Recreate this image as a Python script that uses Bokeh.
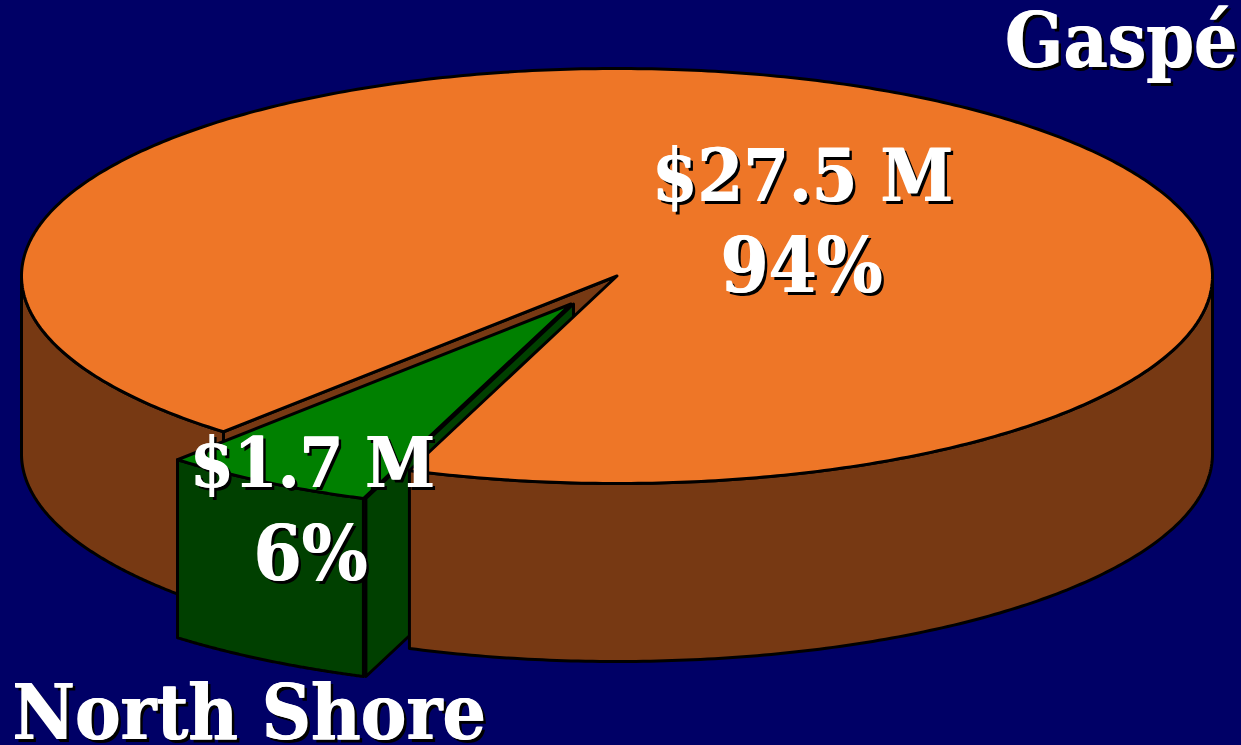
import numpy as np
from bokeh.plotting import figure
from bokeh.models import Range1d
from bokeh.core.properties import value
from bokeh.embed import file_html
from bokeh.resources import INLINE

# data
regions = ["Gaspé", "North Shore"]
amounts = [27.5, 1.7]
amount_labels = ["$27.5 M", "$1.7 M"]
share_labels = ["94%", "6%"]

# colours
BG = "#000066"
ORANGE = "#EE7627"
BROWN = "#773913"
GREEN = "#008000"
DKGREEN = "#004000"

# projected pie geometry (pixels of the page)
W, H = 1241, 745
CX, CY, RX, RY, DEPTH = 616.5, 275.5, 595.5, 207.5, 178
START = 110.4               # degrees, where the small slice starts
DX, DY = -46, 28            # explosion of the small slice
FONT = "DejaVu Serif Condensed"
SHADOW = 3
BASELINE_FIX = 29           # the svg text sits this far under the requested baseline

sweep = 360 * amounts[1] / sum(amounts)
END = START + sweep

p = figure(width=W, height=H, x_range=Range1d(0, W), y_range=Range1d(H, 0),
           output_backend="svg", toolbar_location=None, min_border=0,
           background_fill_color=BG, border_fill_color=BG, outline_line_color=None)
p.axis.visible = False
p.grid.visible = False
p.styles = {"position": "fixed", "left": "0", "top": "0", "background-color": BG}


def arc(t0, t1, dx=0.0, dy=0.0, n=160):
    t = np.radians(np.linspace(t0, t1, n))
    return CX + dx + RX * np.cos(t), CY + dy + RY * np.sin(t)


def shape(xs, ys, color):
    p.patch(list(xs), list(ys), fill_color=color, line_color="black", line_width=3, line_join="round")


def band(t0, t1, color, dx=0.0, dy=0.0):
    x, y = arc(t0, t1, dx, dy)
    shape(np.r_[x, x[::-1]], np.r_[y, y[::-1] + DEPTH], color)


def wall(t, color, dx=0.0, dy=0.0):
    x, y = arc(t, t, dx, dy, 1)
    ax, ay = CX + dx, CY + dy
    shape([ax, x[0], x[0], ax], [ay, y[0], y[0] + DEPTH, ay + DEPTH], color)


# left part of the large slice and its visible cut face
band(END, 180, BROWN)
wall(END, BROWN)
# inner face of the small slice, behind the large slice
wall(START, DKGREEN, DX + 2.5, DY)
# front of the large slice and its top
band(0, START, BROWN)
x, y = arc(START, END - 360, n=500)
shape(np.r_[CX, x], np.r_[CY, y], ORANGE)
# the small slice
band(START, END, DKGREEN, DX, DY)
x, y = arc(START, END, DX, DY, 60)
shape(np.r_[CX + DX, x], np.r_[CY + DY, y], GREEN)


def label(txt, xpos, ypos, size, align="center"):
    # black drop shadow, then white text doubled one pixel across for the heavier face
    for off_x, off_y, col in ((SHADOW, SHADOW, "black"), (-0.5, 0, "white"), (0.5, 0, "white")):
        p.text([xpos + off_x], [ypos - BASELINE_FIX + off_y], text=[txt], text_color=col,
               text_font=value(FONT), text_font_size=f"{size}px", text_font_style="bold",
               text_align=align, text_baseline="alphabetic")


label(amount_labels[0], 802, 203, 73)
label(share_labels[0], 801, 293, 77)
label(amount_labels[1], 312, 491, 70)
label(share_labels[1], 310, 581, 77)
label(regions[0], 1237, 69, 76, "right")
label(regions[1], 12, 741, 76, "left")

open("out.html", "w").write(file_html(p, INLINE))
